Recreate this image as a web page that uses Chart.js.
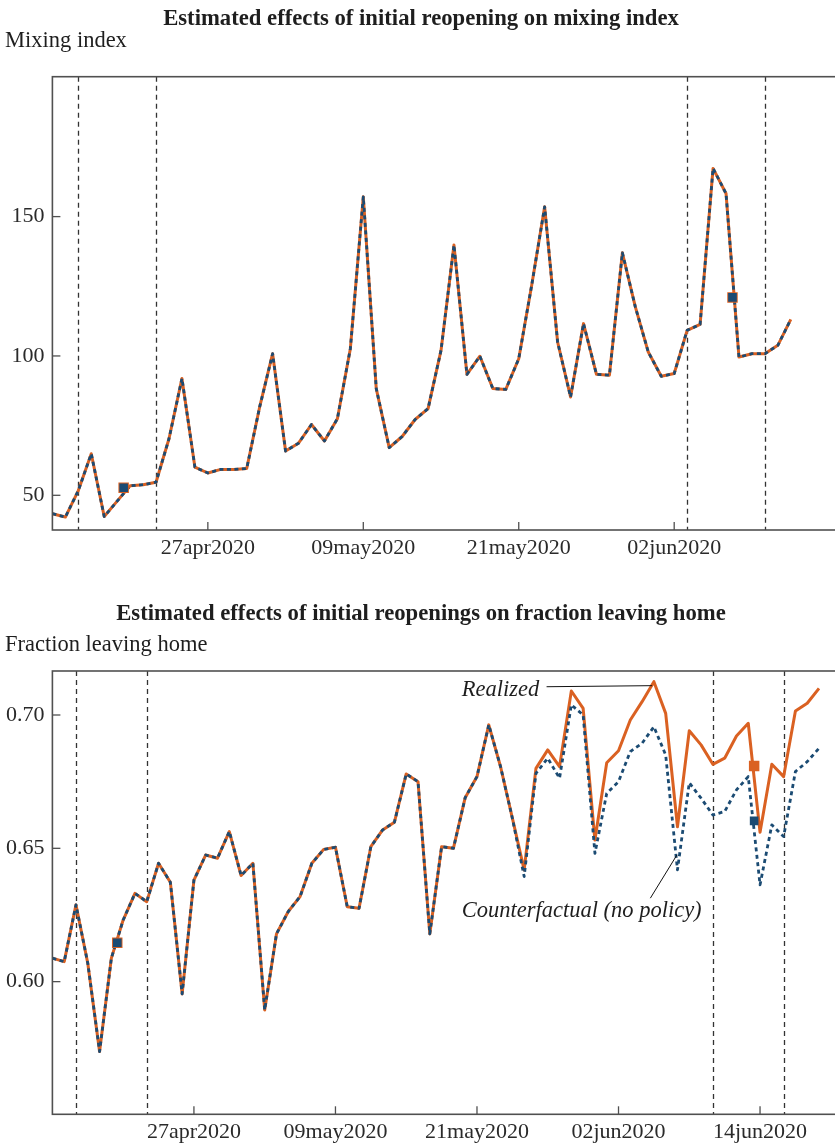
<!DOCTYPE html>
<html>
<head>
<meta charset="utf-8">
<script src="https://cdn.jsdelivr.net/npm/chart.js@4.4.1/dist/chart.umd.min.js"></script>
<style>
  html, body { margin: 0; padding: 0; overflow: hidden; background: #fff; }
  canvas { display: block; }
</style>
</head>
<body>
<canvas id="mixing" width="850" height="565"></canvas>
<canvas id="leaving" width="850" height="580"></canvas>
<script>
// x = days since 15apr2020
const xTickDays = [12, 24, 36, 48, 60];
const xTickLabels = ['27apr2020', '09may2020', '21may2020', '02jun2020', '14jun2020'];

// --- mixing index (top panel) ---
const mixingTicks = [50, 100, 150];
const mixingRealized = [
  43.4, 42.2, 51.7, 64.9, 42.4, 47.9, 53.4, 53.8, 54.7, 70.3,
  91.9, 60.1, 58.0, 59.3, 59.3, 59.6, 81.7, 100.8, 65.9, 68.7,
  75.4, 69.5, 77.5, 102.6, 157.1, 88.3, 67.1, 71.1, 77.2, 81.1,
  102.0, 139.8, 93.4, 99.9, 88.3, 88.0, 99.0, 125.4, 153.5, 105.0,
  85.3, 111.6, 93.4, 93.1, 137.0, 117.6, 101.4, 92.7, 93.7, 109.2,
  111.3, 167.3, 158.3, 99.6, 100.8, 100.8, 103.8, 113.1
];
// counterfactual lies on top of the realized series in this panel
const mixingCounterfactual = mixingRealized.slice();
const mixingEventDays = [2, 8, 49, 55];
const mixingMarkerDays = [5.5, 52.5];
const mixingMarkerRealized = [52.7, 121.0];
const mixingMarkerCounterfactual = [52.7, 121.0];

// --- fraction leaving home (bottom panel) ---
const leavingTicks = [0.60, 0.65, 0.70];
const leavingRealized = [
  0.6088, 0.6075, 0.6288, 0.6069, 0.5738, 0.6088, 0.6231, 0.6331, 0.6300, 0.6444,
  0.6373, 0.5954, 0.6381, 0.6475, 0.6463, 0.6563, 0.6398, 0.6444, 0.5894, 0.6179,
  0.6263, 0.6319, 0.6444, 0.6496, 0.6504, 0.6281, 0.6275, 0.6506, 0.6569, 0.6598,
  0.6779, 0.6750, 0.6179, 0.6506, 0.6500, 0.6690, 0.6769, 0.6963, 0.6806, 0.6613,
  0.6419, 0.6800, 0.6869, 0.6806, 0.7090, 0.7025, 0.6531, 0.6821, 0.6866, 0.6981,
  0.7050, 0.7125, 0.7006, 0.6581, 0.6941, 0.6888, 0.6815, 0.6838, 0.6921, 0.6969,
  0.6560, 0.6815, 0.6769, 0.7015, 0.7044, 0.7100
];
const leavingCounterfactual = [
  0.6088, 0.6075, 0.6288, 0.6069, 0.5738, 0.6088, 0.6231, 0.6331, 0.6300, 0.6444,
  0.6373, 0.5954, 0.6381, 0.6475, 0.6463, 0.6563, 0.6398, 0.6444, 0.5894, 0.6179,
  0.6263, 0.6319, 0.6444, 0.6496, 0.6504, 0.6281, 0.6275, 0.6506, 0.6569, 0.6598,
  0.6779, 0.6750, 0.6179, 0.6506, 0.6500, 0.6690, 0.6769, 0.6963, 0.6806, 0.6613,
  0.6394, 0.6781, 0.6838, 0.6763, 0.7038, 0.7000, 0.6481, 0.6706, 0.6750, 0.6863,
  0.6894, 0.6956, 0.6850, 0.6419, 0.6746, 0.6688, 0.6625, 0.6638, 0.6719, 0.6769,
  0.6363, 0.6588, 0.6544, 0.6788, 0.6825, 0.6875
];
const leavingEventDays = [2, 8, 56, 62];
const leavingMarkerDays = [5.5, 59.5];
const leavingMarkerRealized = [0.6146, 0.6809];
const leavingMarkerCounterfactual = [0.6146, 0.6603];

const ORANGE = '#DA6122';
const BLUE = '#1B4B73';
const FRAME = '#505050';
const SERIF = "'Liberation Serif', 'Times New Roman', serif";

Chart.defaults.font.family = SERIF;
Chart.defaults.font.size = 22;
Chart.defaults.color = '#2a2a2a';
Chart.defaults.animation = false;

const toPoints = (xs, ys) => ys.map((y, i) => ({ x: xs ? xs[i] : i, y }));

// frame, inward ticks, event lines, titles, labels
const decor = {
  id: 'decor',
  beforeDatasetsDraw(chart, args, o) {
    const { ctx, chartArea: a, scales: { x } } = chart;
    ctx.save();
    ctx.strokeStyle = '#333';
    ctx.lineWidth = 1.3;
    ctx.setLineDash([5, 4]);
    o.events.forEach(d => {
      const px = Math.round(x.getPixelForValue(d)) + 0.5;
      ctx.beginPath();
      ctx.moveTo(px, a.top);
      ctx.lineTo(px, a.bottom);
      ctx.stroke();
    });
    ctx.restore();
  },
  afterDraw(chart, args, o) {
    const { ctx, chartArea: a, scales: { x, y } } = chart;
    ctx.save();
    ctx.strokeStyle = FRAME;
    ctx.lineWidth = 1.6;
    ctx.strokeRect(a.left, a.top, a.right - a.left + 10, a.bottom - a.top);
    ctx.lineWidth = 1.3;
    x.ticks.forEach(t => {
      const px = x.getPixelForValue(t.value);
      ctx.beginPath(); ctx.moveTo(px, a.bottom); ctx.lineTo(px, a.bottom - 8); ctx.stroke();
    });
    y.ticks.forEach(t => {
      const py = y.getPixelForValue(t.value);
      ctx.beginPath(); ctx.moveTo(a.left, py); ctx.lineTo(a.left + 8, py); ctx.stroke();
    });

    ctx.fillStyle = '#1e1e1e';
    ctx.textBaseline = 'alphabetic';
    ctx.font = `bold 22.7px ${SERIF}`;
    ctx.textAlign = 'center';
    ctx.fillText(o.title, 421, o.titleY);
    ctx.font = `22.5px ${SERIF}`;
    ctx.textAlign = 'left';
    ctx.fillText(o.ylabel, 5, o.ylabelY);

    (o.notes || []).forEach(n => {
      ctx.font = `italic 22.5px ${SERIF}`;
      ctx.fillText(n.text, x.getPixelForValue(n.at[0]), y.getPixelForValue(n.at[1]));
      ctx.strokeStyle = '#111';
      ctx.lineWidth = 1;
      ctx.beginPath();
      ctx.moveTo(x.getPixelForValue(n.from[0]), y.getPixelForValue(n.from[1]));
      ctx.lineTo(x.getPixelForValue(n.to[0]), y.getPixelForValue(n.to[1]));
      ctx.stroke();
    });
    ctx.restore();
  }
};

function makeChart(id, p) {
  const el = document.getElementById(id);
  return new Chart(el.getContext('2d'), {
    type: 'line',
    data: {
      datasets: [
        // lower order is drawn on top
        { order: 4, data: toPoints(null, p.realized), borderColor: ORANGE, borderWidth: 3, borderJoinStyle: 'round', pointRadius: 0, tension: 0 },
        { order: 3, data: toPoints(null, p.counterfactual), borderColor: BLUE, borderWidth: 2.8, borderJoinStyle: 'round', borderDash: [4, 3.5], pointRadius: 0, tension: 0 },
        { order: 2, type: 'scatter', data: toPoints(p.markerDays, p.markerRealized), pointStyle: 'rect', pointRadius: 7.4, backgroundColor: ORANGE, borderWidth: 0 },
        { order: 1, type: 'scatter', data: toPoints(p.markerDays, p.markerCounterfactual), pointStyle: 'rect', pointRadius: 6.1, backgroundColor: BLUE, borderWidth: 0 }
      ]
    },
    options: {
      responsive: false,
      layout: { padding: { top: p.top, right: p.right, left: 0, bottom: 0 } },
      plugins: {
        legend: { display: false },
        tooltip: { enabled: false },
        decor: {
          title: p.title, titleY: p.titleY, ylabel: p.ylabel, ylabelY: p.ylabelY,
          events: p.events, notes: p.notes
        }
      },
      scales: {
        x: {
          type: 'linear', min: 0, max: p.xMax,
          grid: { display: false, drawTicks: false }, border: { display: false },
          afterBuildTicks: s => { s.ticks = p.xTicks.map(v => ({ value: v })); },
          afterFit: s => { s.height = p.xAxisH; },
          ticks: { padding: 5, maxRotation: 0, autoSkip: false, callback: v => xTickLabels[xTickDays.indexOf(v)] }
        },
        y: {
          min: p.yMin, max: p.yMax,
          grid: { display: false, drawTicks: false }, border: { display: false },
          afterBuildTicks: s => { s.ticks = p.yTicks.map(v => ({ value: v })); },
          afterFit: s => { s.width = 52.4; },
          ticks: { padding: 8, callback: p.yFmt }
        }
      }
    },
    plugins: [decor]
  });
}

makeChart('mixing', {
  title: 'Estimated effects of initial reopening on mixing index', titleY: 25,
  ylabel: 'Mixing index', ylabelY: 47,
  realized: mixingRealized, counterfactual: mixingCounterfactual,
  markerDays: mixingMarkerDays, markerRealized: mixingMarkerRealized, markerCounterfactual: mixingMarkerCounterfactual,
  events: mixingEventDays,
  xTicks: xTickDays.slice(0, 4), xMax: 61, right: 1.3, top: 76.7, xAxisH: 35,
  yMin: 37.55, yMax: 200.2, yTicks: mixingTicks, yFmt: v => String(v)
});

makeChart('leaving', {
  title: 'Estimated effects of initial reopenings on fraction leaving home', titleY: 55,
  ylabel: 'Fraction leaving home', ylabelY: 85.7,
  realized: leavingRealized, counterfactual: leavingCounterfactual,
  markerDays: leavingMarkerDays, markerRealized: leavingMarkerRealized, markerCounterfactual: leavingMarkerCounterfactual,
  events: leavingEventDays,
  xTicks: xTickDays, xMax: 67, right: 1.9, top: 106, xAxisH: 30.7,
  yMin: 0.55025, yMax: 0.7165, yTicks: leavingTicks, yFmt: v => v.toFixed(2),
  notes: [
    { text: 'Realized', at: [34.7, 0.7071], from: [41.9, 0.7106], to: [50.85, 0.7110] },
    { text: 'Counterfactual (no policy)', at: [34.7, 0.6243], from: [50.7, 0.6313], to: [52.95, 0.6475] }
  ]
});
</script>
</body>
</html>
